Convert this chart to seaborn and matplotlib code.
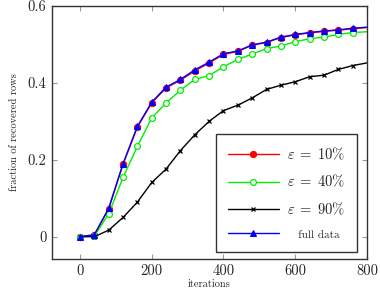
import matplotlib
matplotlib.use("Agg")
import matplotlib.pyplot as plt
import seaborn as sns
import pandas as pd
import numpy as np

iterations = [0, 40, 80, 120, 160, 200, 240, 280, 320, 360, 400, 440, 480, 520,
              560, 600, 640, 680, 720, 760, 800]
eps10 = [0.0, 0.005, 0.072, 0.188, 0.285, 0.348, 0.387, 0.407, 0.431, 0.452, 0.474,
         0.482, 0.498, 0.505, 0.518, 0.525, 0.530, 0.534, 0.537, 0.541, 0.544]
eps40 = [0.0, 0.002, 0.059, 0.154, 0.235, 0.309, 0.348, 0.381, 0.409, 0.419, 0.442,
         0.461, 0.475, 0.489, 0.496, 0.507, 0.515, 0.519, 0.526, 0.531, 0.533]
eps90 = [0.0, 0.0, 0.017, 0.050, 0.090, 0.141, 0.176, 0.224, 0.265, 0.300, 0.328,
         0.342, 0.361, 0.383, 0.394, 0.403, 0.416, 0.420, 0.435, 0.445, 0.452]
full = [0.0, 0.005, 0.074, 0.190, 0.287, 0.350, 0.389, 0.409, 0.434, 0.454, 0.476,
        0.483, 0.499, 0.506, 0.519, 0.526, 0.531, 0.535, 0.538, 0.542, 0.545]

series_names = [r"$\varepsilon\;=\;10\%$", r"$\varepsilon\;=\;40\%$",
                r"$\varepsilon\;=\;90\%$", "   full data"]
x_ticks = [0, 200, 400, 600, 800]
y_ticks = [0, 0.2, 0.4, 0.6]
y_tick_labels = ["0", "0.2", "0.4", "0.6"]

sns.set_theme(style="white")
plt.rcParams["font.family"] = ["serif"]
plt.rcParams["font.serif"] = ["cmr10", "DejaVu Serif"]
plt.rcParams["mathtext.fontset"] = "cm"
plt.rcParams["axes.formatter.use_mathtext"] = True

fig = plt.figure(figsize=(3.8, 2.9), dpi=100)
ax = fig.add_axes([52 / 380, 1 - 259 / 290, (367 - 52) / 380, (259 - 6) / 290])

styles = [
    dict(color="#ff0000", marker="o", markersize=4.5, markerfacecolor="#ff0000",
         markeredgecolor="#ff0000", lw=1.0),
    dict(color="#00ee00", marker="o", markersize=4.2, markerfacecolor="white",
         markeredgecolor="#00ee00", markeredgewidth=0.9, lw=1.0),
    dict(color="black", marker="x", markersize=3.2, markeredgecolor="black",
         markeredgewidth=0.9, lw=1.0),
    dict(color="#0000ff", marker="^", markersize=4.2, markerfacecolor="#0000ff",
         markeredgecolor="#0000ff", lw=1.0),
]
all_vals = [eps10, eps40, eps90, full]
mark_idx = list(range(len(iterations) - 1))
for name, vals, st in zip(series_names, all_vals, styles):
    df = pd.DataFrame({"iterations": iterations, "value": vals})
    sns.lineplot(data=df, x="iterations", y="value", ax=ax, label=name,
                 markevery=mark_idx, **st)

ax.set_xlim(-78, 800)
ax.set_ylim(-0.058, 0.6)
ax.set_xticks(x_ticks)
ax.set_xticklabels([str(t) for t in x_ticks])
ax.set_yticks(y_ticks)
ax.set_yticklabels(y_tick_labels)
ax.tick_params(direction="in", length=3.5, width=0.8, color="#999999",
               top=True, right=True, labelsize=10.5, pad=4,
               bottom=True, left=True)
for s in ax.spines.values():
    s.set_color("#333333")
    s.set_linewidth(1.0)

ax.set_xlabel("iterations", fontsize=7.5, labelpad=1)
ax.set_ylabel("fraction of recovered rows", fontsize=7.5, labelpad=6)

leg = ax.legend(loc="lower right", bbox_to_anchor=(0.968, 0.028), fontsize=10.5,
                frameon=True, fancybox=False, framealpha=1, edgecolor="#333333",
                handlelength=3.5, handletextpad=0.55, labelspacing=0.75,
                borderpad=0.8, borderaxespad=0)
leg.get_frame().set_linewidth(1.0)
for t in leg.get_texts():
    if "full data" in t.get_text():
        t.set_fontsize(8)

fig.savefig("out.png", dpi=100)
